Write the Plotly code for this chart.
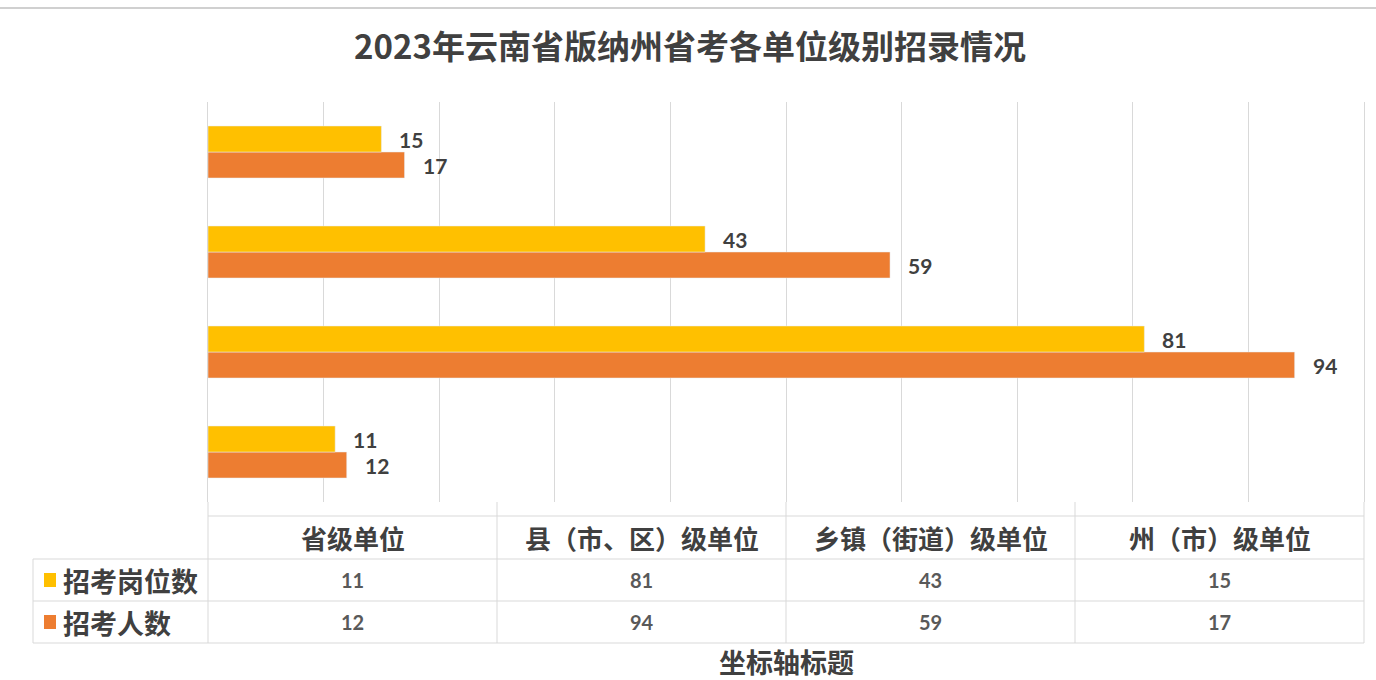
import plotly.graph_objects as go

# ---- data ----
categories = ["省级单位", "县（市、区）级单位", "乡镇（街道）级单位", "州（市）级单位"]
series_names = ["招考岗位数", "招考人数"]
posts = [11, 81, 43, 15]      # 招考岗位数
people = [12, 94, 59, 17]     # 招考人数
title_text = "2023年云南省版纳州省考各单位级别招录情况"
axis_title = "坐标轴标题"

YELLOW = "#FFC000"
ORANGE = "#ED7D31"
TXT = "#404040"
GRID = "#D9D9D9"
CJK = "Noto Sans CJK SC"
NUM = "Lato, Noto Sans CJK SC"

W, H = 1376, 680
L, R, T, B = 208, 12, 102, 178
PW, PH = W - L - R, H - T - B
XMAX = 100

def px_x(px):
    return (px - L) / PW

def px_y(py):
    return (H - B - py) / PH

fig = go.Figure()
# orange first so it sits below yellow within each group
fig.add_trace(go.Bar(y=categories, x=people, orientation="h", name=series_names[1],
                     marker=dict(color=ORANGE), hoverinfo="x"))
fig.add_trace(go.Bar(y=categories, x=posts, orientation="h", name=series_names[0],
                     marker=dict(color=YELLOW), hoverinfo="x"))

bargap = 0.48
half = (1 - bargap) / 4  # center offset of each bar within group

annotations = []
# data labels
for i, c in enumerate(categories):
    for val, off in ((posts[i], +half), (people[i], -half)):
        annotations.append(dict(x=val, y=i + off, xref="x", yref="y", text=str(val),
                                showarrow=False, xanchor="left", yanchor="middle", xshift=16,
                                font=dict(family=NUM, size=21, color=TXT, weight="bold")))

shapes = []
# top screenshot border line
shapes.append(dict(type="line", xref="paper", yref="paper", x0=px_x(0), x1=px_x(W),
                   y0=px_y(8), y1=px_y(8), line=dict(color="#D0D0D0", width=2)))

# data table geometry (pixels)
hdr_top, row1_top, row2_top, tbl_bot = 516, 559, 601, 643
lab_left = 33
n = len(categories)
# column separators (extending up as tick marks to plot bottom)
for k in range(n + 1):
    xp = k / n
    shapes.append(dict(type="line", xref="paper", yref="paper", x0=xp, x1=xp,
                       y0=px_y(H - B), y1=px_y(tbl_bot), line=dict(color=GRID, width=1)))
# left border of label column
shapes.append(dict(type="line", xref="paper", yref="paper", x0=px_x(lab_left), x1=px_x(lab_left),
                   y0=px_y(row1_top), y1=px_y(tbl_bot), line=dict(color=GRID, width=1)))
# horizontal lines
shapes.append(dict(type="line", xref="paper", yref="paper", x0=0, x1=1,
                   y0=px_y(hdr_top), y1=px_y(hdr_top), line=dict(color=GRID, width=1)))
for yy in (row1_top, row2_top, tbl_bot):
    shapes.append(dict(type="line", xref="paper", yref="paper", x0=px_x(lab_left), x1=1,
                       y0=px_y(yy), y1=px_y(yy), line=dict(color=GRID, width=1)))

# header texts
for k, c in enumerate(categories):
    annotations.append(dict(x=(k + 0.5) / n, y=px_y((hdr_top + row1_top) / 2), xref="paper", yref="paper",
                            text=c, showarrow=False, xanchor="center", yanchor="middle",
                            font=dict(family=CJK, size=26, color=TXT, weight="bold")))

rows = [(series_names[0], posts, YELLOW, (row1_top + row2_top) / 2),
        (series_names[1], people, ORANGE, (row2_top + tbl_bot) / 2)]
for name, vals, col, yc in rows:
    shapes.append(dict(type="rect", xref="paper", yref="paper", x0=px_x(44), x1=px_x(56),
                       y0=px_y(yc - 7), y1=px_y(yc + 7), fillcolor=col, line=dict(width=0)))
    annotations.append(dict(x=px_x(61), y=px_y(yc), xref="paper", yref="paper", text=name,
                            showarrow=False, xanchor="left", yanchor="middle",
                            font=dict(family=CJK, size=27, color=TXT, weight="bold")))
    for k, v in enumerate(vals):
        annotations.append(dict(x=(k + 0.5) / n, y=px_y(yc), xref="paper", yref="paper", text=str(v),
                                showarrow=False, xanchor="center", yanchor="middle",
                                font=dict(family=NUM, size=20, color="#595959", weight="bold")))

# axis title
annotations.append(dict(x=0.5, y=px_y(661), xref="paper", yref="paper", text=axis_title,
                        showarrow=False, xanchor="center", yanchor="middle",
                        font=dict(family=CJK, size=27, color=TXT, weight="bold")))

fig.update_layout(
    width=W, height=H,
    margin=dict(l=L, r=R, t=T, b=B),
    paper_bgcolor="white", plot_bgcolor="white",
    barmode="group", bargap=bargap, bargroupgap=0,
    showlegend=False,
    title=dict(text=title_text, x=690 / W, xanchor="center", y=1 - 47 / H, yanchor="middle",
               font=dict(family=CJK, size=33, color=TXT, weight="bold")),
    xaxis=dict(range=[0, XMAX], dtick=10, showgrid=True, gridcolor=GRID, gridwidth=1,
               showticklabels=False, zeroline=False, showline=False, ticks="", fixedrange=True),
    yaxis=dict(showticklabels=False, showgrid=False, zeroline=False, showline=True, mirror=True,
               linecolor=GRID, linewidth=1, ticks="", range=[-0.5, n - 0.5], fixedrange=True),
    annotations=annotations,
    shapes=shapes,
)

fig.write_html("out.html", post_script="document.body.style.margin='0';",
               config={"displayModeBar": False})
